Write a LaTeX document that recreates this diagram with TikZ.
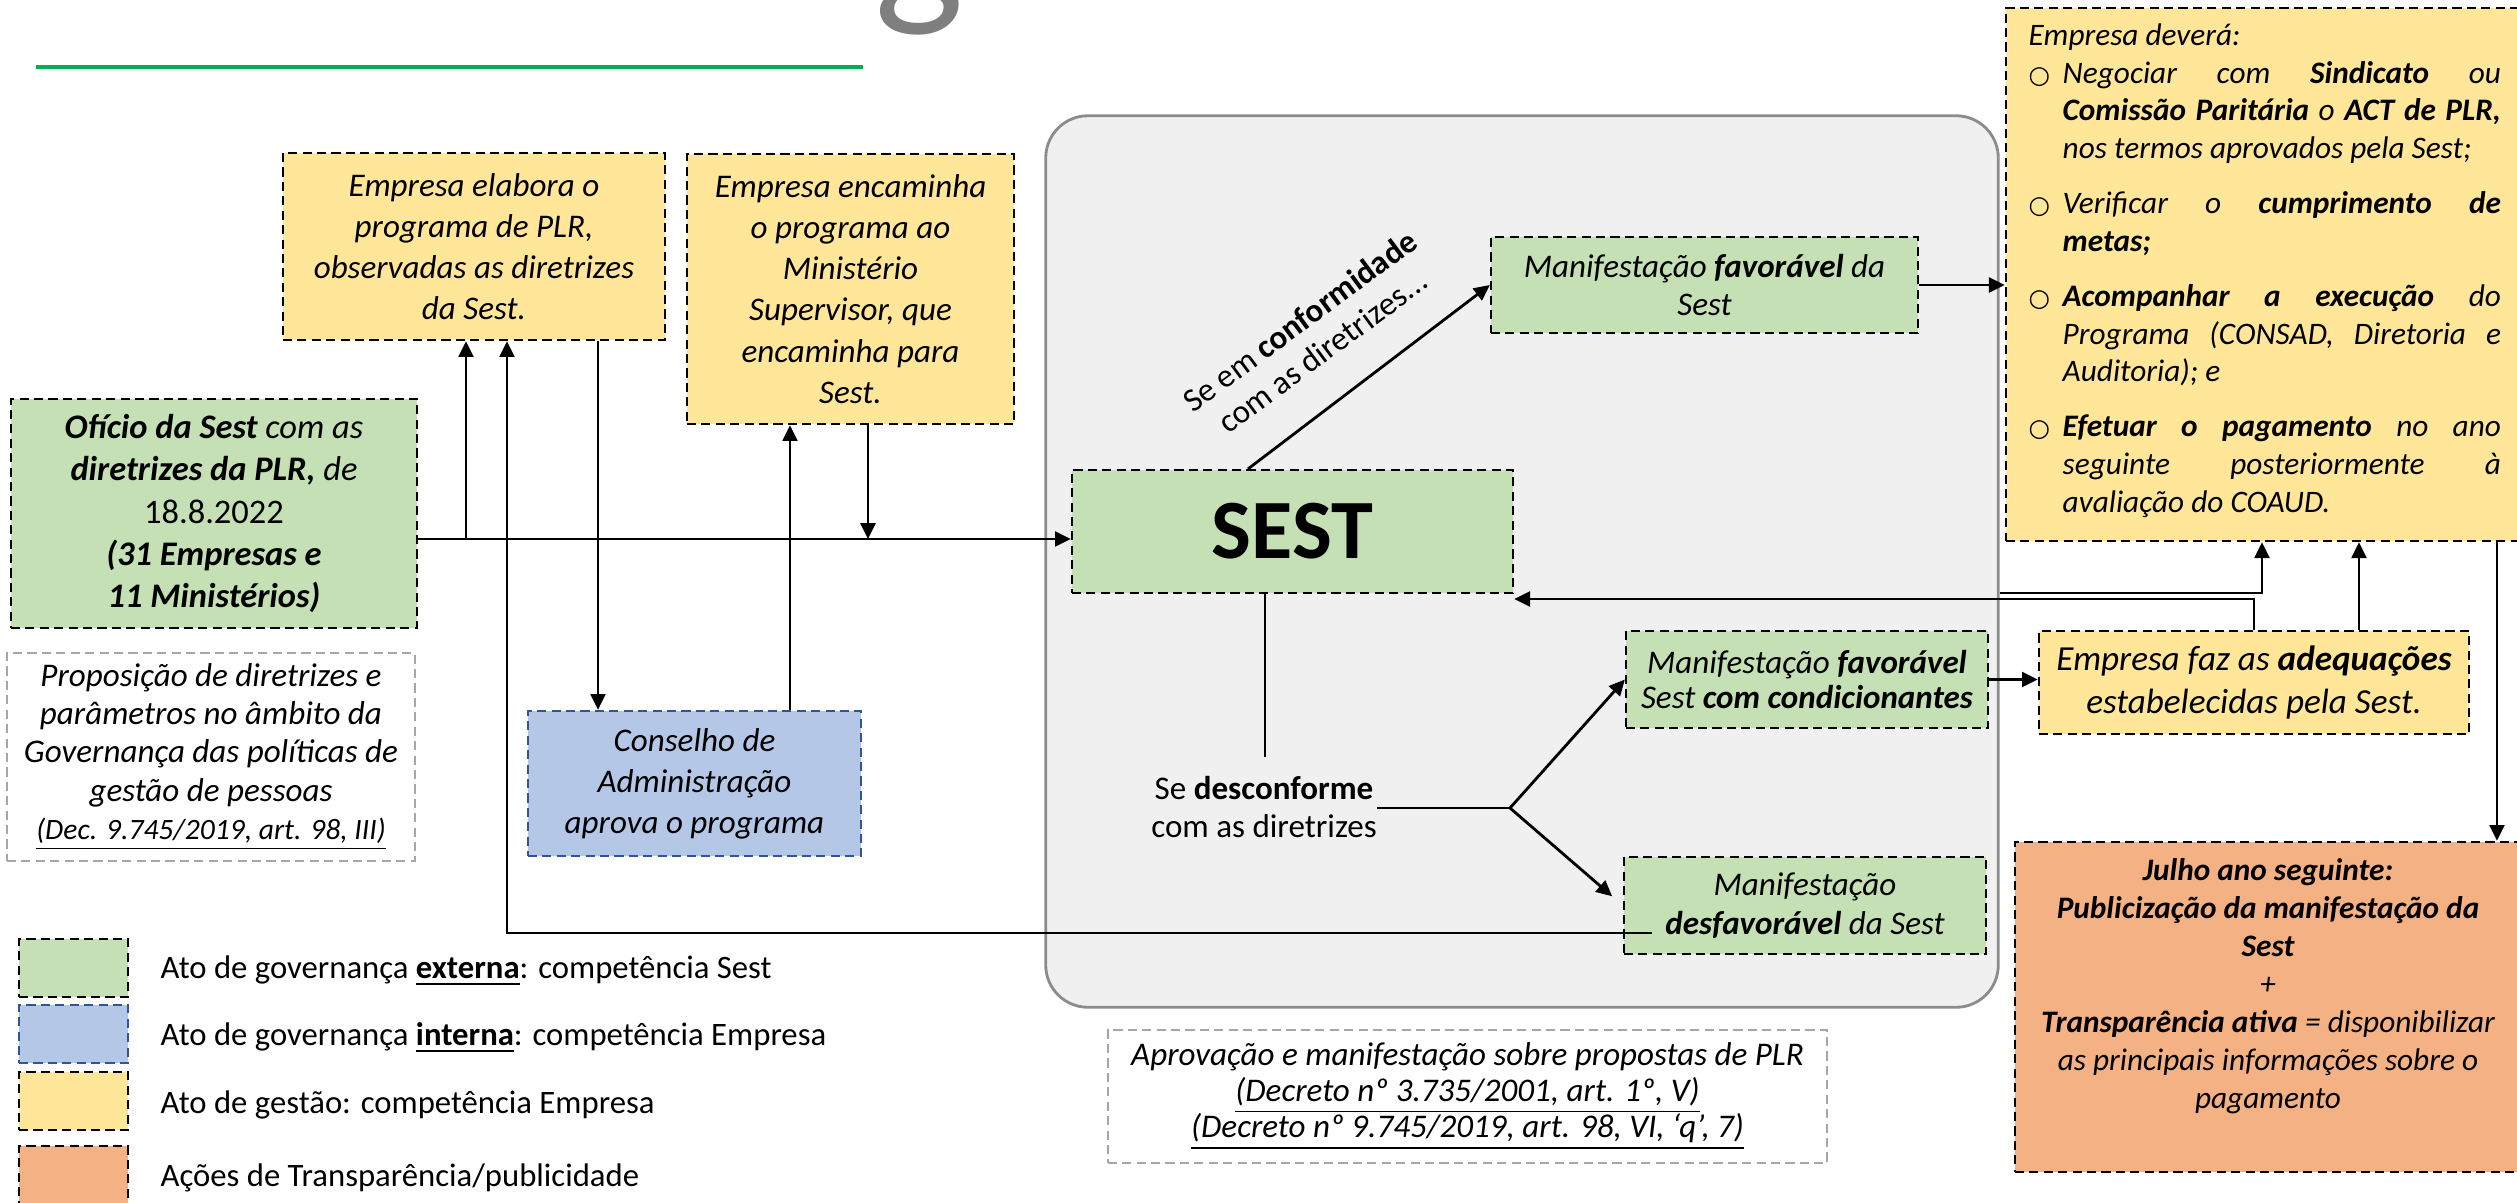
\documentclass[tikz,border=0pt]{standalone}
\usepackage{fontspec}
\setmainfont{Carlito}
\newfontfamily\djv{DejaVu Sans}
\usetikzlibrary{arrows.meta}
\definecolor{gfill}{HTML}{C5E0B4}
\definecolor{yfill}{HTML}{FFE699}
\definecolor{bfill}{HTML}{B4C7E7}
\definecolor{ofill}{HTML}{F4B183}
\definecolor{cfill}{HTML}{F0F0F0}
\definecolor{cline}{HTML}{8C8C8C}
\definecolor{bline}{HTML}{2F5597}
\definecolor{gline}{HTML}{00B050}
\definecolor{dgray}{HTML}{A6A6A6}
\definecolor{tgray}{HTML}{7F7F7F}
\newcommand{\bul}{\llap{\makebox[0.34cm][l]{\djv\fontsize{7}{7}\selectfont ○}}}
\begin{document}
\begin{tikzpicture}[x=0.01cm,y=-0.01cm,
  box/.style={draw=black, dash pattern=on 2.6pt off 1.5pt, line width=0.6pt, inner sep=0pt, align=center, font=\fontsize{9.4}{11.7}\selectfont\itshape},
  graybox/.style={box, draw=dgray, fill=white},
  txt/.style={inner sep=0pt, align=center, font=\fontsize{9.4}{10.8}\selectfont},
  legtxt/.style={inner sep=0pt, anchor=west, font=\fontsize{9.3}{11}\selectfont},
  conn/.style={line width=0.8pt},
  arr/.style={conn, -{Triangle[length=4.5pt,width=4.2pt]}},
]
\useasboundingbox (0,0) rectangle (2517,1202);
% title (cut off at the top edge) and rule
\node[inner sep=0pt, anchor=base, text=tgray, font=\fontsize{54}{60}\selectfont] (title) at (919,2) {g};
\draw[gline, line width=1.3pt] (36,67) -- (863,67);

% container
\node[draw=cline, fill=cfill, line width=0.8pt, rounded corners=12pt, minimum width=9.52cm, minimum height=8.91cm, inner sep=0pt] (cont) at (1522,561.5) {};

% left boxes
\node[box, fill=yfill, minimum width=3.82cm, minimum height=1.87cm] (elab) at (474,246.5) {Empresa elabora o\\programa de PLR,\\observadas as diretrizes\\da Sest.};
\node[box, fill=yfill, minimum width=3.27cm, minimum height=2.70cm] (encam) at (850.5,289) {Empresa encaminha\\o programa ao\\Ministério\\Supervisor, que\\encaminha para\\Sest.};
\node[box, fill=gfill, minimum width=4.06cm, minimum height=2.29cm, font=\fontsize{9.8}{12}\selectfont\itshape] (ofic) at (214,513.5) {\textbf{Ofício da Sest} com as\\\textbf{diretrizes da PLR,} de\\\textup{18.8.2022}\\\textbf{(31 Empresas e}\\\textbf{11 Ministérios)}};
\node[graybox, minimum width=4.08cm, minimum height=2.08cm, font=\fontsize{9.4}{10.9}\selectfont\itshape] (propos) at (211,757) {Proposição de diretrizes e\\parâmetros no âmbito da\\Governança das políticas de\\gestão de pessoas\\{\fontsize{8.4}{10}\selectfont\underline{(Dec. 9.745/2019, art. 98, III)}}};
\node[box, draw=bline, fill=bfill, minimum width=3.33cm, minimum height=1.45cm] (cons) at (694.5,783.5) {Conselho de\\Administração\\aprova o programa};

% inside container
\node[box, fill=gfill, minimum width=4.41cm, minimum height=1.23cm, font=\fontsize{24}{28}\selectfont\bfseries] (sest) at (1292.5,531.5) {SEST};
\node[box, fill=gfill, minimum width=4.27cm, minimum height=0.96cm, font=\fontsize{9.4}{11}\selectfont\itshape] (fav) at (1704.5,285) {Manifestação \textbf{favorável} da\\Sest};
\node[box, fill=gfill, minimum width=3.62cm, minimum height=0.97cm, font=\fontsize{9.4}{10.2}\selectfont\itshape] (cond) at (1807,679.5) {Manifestação \textbf{favorável}\\Sest \textbf{com condicionantes}};
\node[box, fill=gfill, minimum width=3.62cm, minimum height=0.97cm, font=\fontsize{9.4}{10.9}\selectfont\itshape] (desf) at (1805,905.5) {Manifestação\\\textbf{desfavorável} da Sest};
\node[txt, rotate=36.5] (conf) at (1311,336) {Se em \textbf{conformidade}\\com as diretrizes...};
\node[txt] (desc) at (1264,807) {Se \textbf{desconforme}\\com as diretrizes};

\node[graybox, minimum width=7.19cm, minimum height=1.33cm, font=\fontsize{9.4}{10.2}\selectfont\itshape] (aprov) at (1467.5,1096.5) {Aprovação e manifestação sobre propostas de PLR\\\underline{(Decreto nº 3.735/2001, art. 1º, V)}\\\underline{(Decreto nº 9.745/2019, art. 98, VI, ‘q’, 7)}};

% right boxes
\node[box, fill=yfill, minimum width=5.16cm, minimum height=5.33cm] (dever) at (2264,274.5) {};
\node[inner sep=0pt, anchor=north west, text width=4.72cm, align=justify, font=\fontsize{8.9}{10.7}\selectfont\itshape] (deverT) at (2028,23) {%
Empresa deverá:\par
\leftskip=0.34cm
\noindent\bul Negociar com \textbf{Sindicato} ou\linebreak \textbf{Comissão Paritária} o \textbf{ACT de PLR,}\linebreak nos termos aprovados pela Sest;\par
\vspace{5pt}
\noindent\bul Verificar o \textbf{cumprimento de}\linebreak \textbf{metas;}\par
\vspace{5pt}
\noindent\bul \textbf{Acompanhar a execução} do\linebreak Programa (CONSAD, Diretoria e\linebreak Auditoria); e\par
\vspace{5pt}
\noindent\bul \textbf{Efetuar o pagamento} no ano\linebreak seguinte posteriormente à\linebreak avaliação do COAUD.\par};
\node[box, fill=yfill, minimum width=4.30cm, minimum height=1.03cm, font=\fontsize{10}{12.2}\selectfont\itshape] (adeq) at (2254,682.5) {Empresa faz as \textbf{adequações}\\estabelecidas pela Sest.};
\node[box, fill=ofill, minimum width=5.07cm, minimum height=3.30cm] (julho) at (2268.5,1007) {};
\node[inner sep=0pt, anchor=north, align=center, font=\fontsize{8.9}{10.8}\selectfont\itshape] (julhoT) at (2268,858) {\textbf{Julho ano seguinte:}\\\textbf{Publicização da manifestação da}\\\textbf{Sest}\\+\\\textbf{Transparência ativa} = disponibilizar\\as principais informações sobre o\\pagamento};

% legend
\node[box, fill=gfill, minimum width=1.09cm, minimum height=0.58cm] (lg1) at (73.5,968) {};
\node[box, draw=bline, fill=bfill, minimum width=1.09cm, minimum height=0.58cm] (lg2) at (73.5,1034) {};
\node[box, fill=yfill, minimum width=1.09cm, minimum height=0.58cm] (lg3) at (73.5,1101) {};
\node[box, fill=ofill, minimum width=1.09cm, minimum height=0.58cm] (lg4) at (73.5,1175) {};
\node[legtxt] (lt1) at (160,971) {Ato de governança \textbf{\underline{externa}}: competência Sest};
\node[legtxt] (lt2) at (160,1038) {Ato de governança \textbf{\underline{interna}}: competência Empresa};
\node[legtxt] (lt3) at (160,1105) {Ato de gestão: competência Empresa};
\node[legtxt] (lt4) at (160,1178) {Ações de Transparência/publicidade};

% connectors
\coordinate (ym) at (0,539);
\coordinate (j1) at (466,539);
\coordinate (j2) at (598,0);
\coordinate (j3) at (790,0);
\coordinate (j4) at (868,539);
\coordinate (j5) at (1248,0);
\coordinate (j6) at (1265,757);
\coordinate (br) at (1510,808);
\coordinate (j7) at (2254,599);
\coordinate (j8) at (2262,593);
\coordinate (j9) at (2359,0);
\coordinate (j10) at (2497,0);
\coordinate (j11) at (507,933);
\coordinate (j12) at (1652,933);

\draw[arr] (ofic.east |- ym) -- (sest.west |- ym);
\draw[arr] (j1) -- (j1 |- elab.south);
\draw[arr] (elab.south -| j2) -- (cons.north -| j2);
\draw[arr] (cons.north -| j3) -- (encam.south -| j3);
\draw[arr] (encam.south -| j4) -- (j4);
\draw[arr] (sest.north -| j5) -- (fav.west);
\draw[arr] (fav.east) -- (fav.east -| dever.west);
\draw[conn] (sest.south -| j6) -- (j6);
\draw[conn] (desc.east |- br) -- (br);
\draw[arr] (br) -- (cond.west);
\draw[arr, shorten >=4pt] (br) -- (desf.west);
\draw[arr] (cond.east) -- (cond.east -| adeq.west);
\draw[arr] (adeq.north -| j7) -- (j7) -- (j7 -| sest.east);
\draw[arr] (cont.east |- j8) -- (j8) -- (j8 |- dever.south);
\draw[arr] (adeq.north -| j9) -- (dever.south -| j9);
\draw[arr] (dever.south -| j10) -- (julho.north -| j10);
\draw[arr] (j12) -- (j11) -- (j11 |- elab.south);
\end{tikzpicture}
\end{document}
